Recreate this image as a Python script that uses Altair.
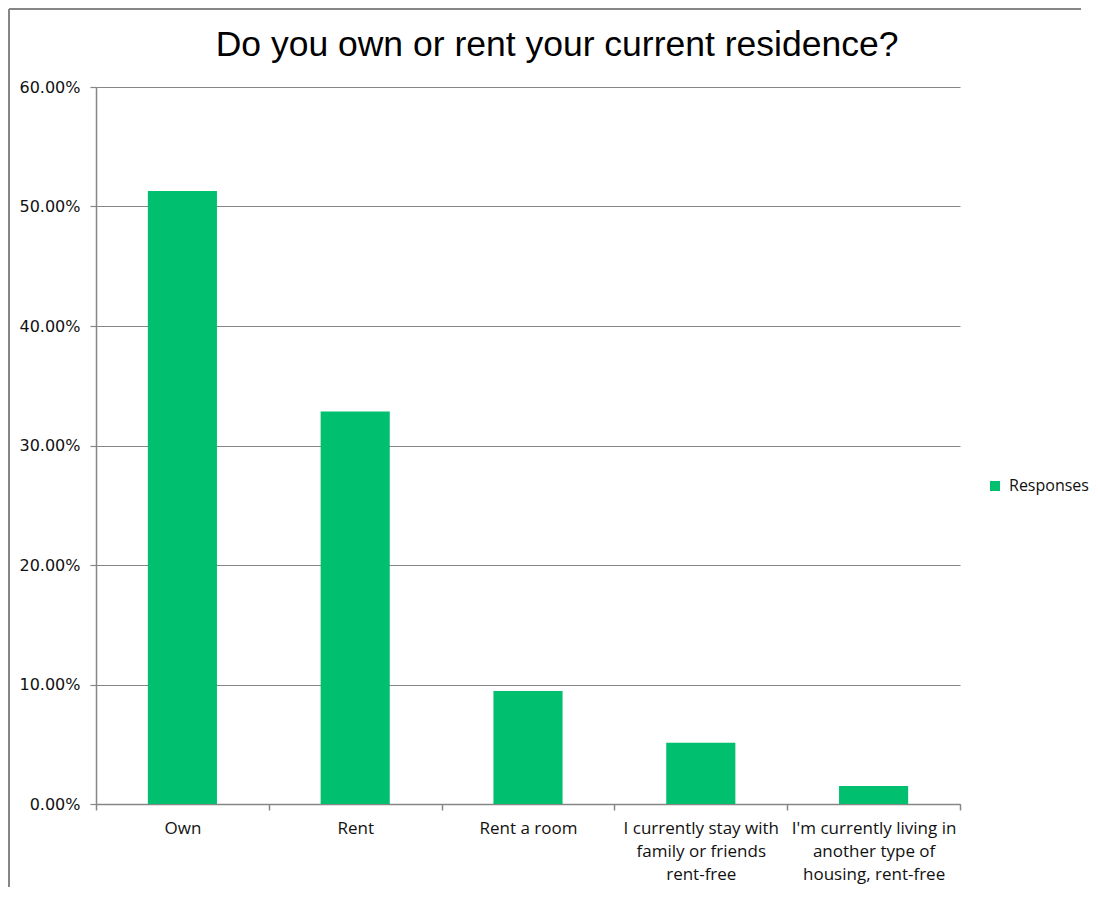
import altair as alt
import pandas as pd

categories = [
    "Own",
    "Rent",
    "Rent a room",
    "I currently stay with\nfamily or friends\nrent-free",
    "I'm currently living in\nanother type of\nhousing, rent-free",
]
responses = [0.5130, 0.3285, 0.0945, 0.0513, 0.0150]
series_name = "Responses"
y_ticks = [0.0, 0.1, 0.2, 0.3, 0.4, 0.5, 0.6]
title_text = "Do you own or rent your current residence?"

df = pd.DataFrame({
    "answer": categories,
    "value": responses,
    "series": [series_name] * len(categories),
})

GREEN = "#00BF6F"
GRAY = "#868686"

bars = alt.Chart(df).mark_bar(color=GREEN, width=alt.RelativeBandSize(0.4)).encode(
    x=alt.X(
        "answer:N",
        sort=categories,
        title=None,
        scale=alt.Scale(paddingInner=0, paddingOuter=0),
        axis=alt.Axis(
            labelAngle=0,
            labelExpr="split(datum.label, '\\n')",
            tickBand="extent",
            domainColor=GRAY,
            domainWidth=1.5,
            tickColor=GRAY,
            tickWidth=1.5,
            tickSize=6,
            labelFont="Open Sans",
            labelFontSize=17,
            labelColor="#111111",
            labelLineHeight=23,
            labelPadding=10,
            grid=False,
        ),
    ),
    y=alt.Y(
        "value:Q",
        title=None,
        scale=alt.Scale(domain=[0, 0.6], nice=False),
        axis=alt.Axis(
            format=".2%",
            values=y_ticks,
            grid=True,
            gridColor=GRAY,
            gridWidth=1.2,
            domainColor=GRAY,
            domainWidth=1.5,
            tickColor=GRAY,
            tickWidth=1.2,
            tickSize=6,
            labelFont="DejaVu Sans",
            labelFontSize=16,
            labelColor="#111111",
            labelPadding=10,
        ),
    ),
    color=alt.Color(
        "series:N",
        scale=alt.Scale(domain=[series_name], range=[GREEN]),
        legend=alt.Legend(
            title=None,
            orient="none",
            legendX=891,
            legendY=391,
            symbolType="square",
            symbolSize=100,
            symbolStrokeWidth=0,
            labelFont="Open Sans",
            labelFontSize=16,
            labelColor="#111111",
            labelOffset=6,
        ),
    ),
)

frame_data = alt.Data(values=[{"f": 1}])
frame_top = alt.Chart(frame_data).mark_rule(color=GRAY, strokeWidth=2).encode(
    x=alt.value(-87), x2=alt.value(985), y=alt.value(-78)
)
frame_left = alt.Chart(frame_data).mark_rule(color=GRAY, strokeWidth=2).encode(
    x=alt.value(-87), y=alt.value(-78), y2=alt.value(800)
)

chart = alt.layer(bars, frame_top, frame_left).properties(
    width=864,
    height=717,
    padding=0,
    title=alt.TitleParams(
        title_text,
        font="Liberation Sans",
        fontSize=35.5,
        fontWeight="normal",
        color="#000000",
        anchor="middle",
        offset=-55,
        dx=29,
    ),
).configure_view(stroke=None)

chart.save("out.html", embed_options={"renderer": "svg", "actions": False})
